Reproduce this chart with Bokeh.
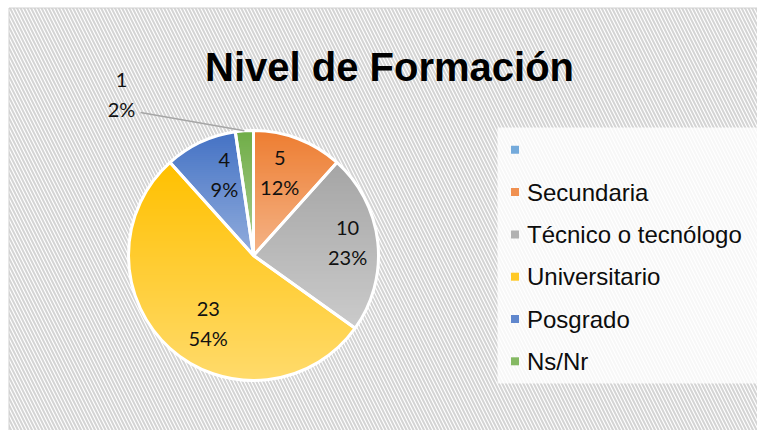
import math
from bokeh.plotting import figure
from bokeh.models import Range1d, ColumnDataSource
from bokeh.core.properties import value
from bokeh.embed import file_html
from bokeh.resources import INLINE

# ---------------- data ----------------
title_text = "Nivel de Formación"
categories = ["", "Secundaria", "Técnico o tecnólogo", "Universitario", "Posgrado", "Ns/Nr"]
counts = [0, 5, 10, 23, 4, 1]
percent_labels = ["", "12%", "23%", "54%", "9%", "2%"]

# ---------------- style / layout ----------------
base_colors = ["#5B9BD5", "#ED7D31", "#A5A5A5", "#FFC000", "#4472C4", "#70AD47"]
W, H = 757, 430
BX, BY = 8.5, 422.5                 # chart border (left / top)
CX, CY, R = 253, 175, 125          # pie centre / radius in pixel-like data units
label_r = [0.0, 0.70, 0.76, 0.65, 0.69, 0.0]
label_shift_deg = [0, -3.5, -1.7, -8.0, 5.4, 0]   # clockwise nudges of label positions
outside_label = {5: (121, 337)}     # label drawn outside with a leader line
LEG_X, LEG_Y0, LEG_STEP = 514.5, 280.7, 42.3


def lighten(hexc, t):
    rgb = [int(hexc[i:i + 2], 16) for i in (1, 3, 5)]
    return "#%02x%02x%02x" % tuple(int(round(c + (255 - c) * t)) for c in rgb)


def clip_band(poly, lo, hi):
    def clip_edge(pts, keep, y0):
        out = []
        n = len(pts)
        for i in range(n):
            cur, prev = pts[i], pts[i - 1]
            def inter(p, q):
                return (p[0] + (q[0] - p[0]) * (y0 - p[1]) / (q[1] - p[1]), y0)
            if keep(cur):
                if not keep(prev):
                    out.append(inter(prev, cur))
                out.append(cur)
            elif keep(prev):
                out.append(inter(prev, cur))
        return out
    pts = clip_edge(poly, lambda p: p[1] >= lo, lo)
    if not pts:
        return []
    return clip_edge(pts, lambda p: p[1] <= hi, hi)


total = sum(counts)
starts, ends, cum = [], [], 0.0
for c in counts:
    a0 = math.pi / 2 - 2 * math.pi * cum / total
    cum += c
    a1 = math.pi / 2 - 2 * math.pi * cum / total
    starts.append(a0)
    ends.append(a1)

p = figure(width=W, height=H, x_range=Range1d(0, W), y_range=Range1d(0, H),
           output_backend="svg", toolbar_location=None,
           x_axis_type=None, y_axis_type=None, min_border=0)
p.grid.visible = False
p.outline_line_color = None
p.background_fill_color = "white"
p.border_fill_color = "white"

# hatched chart background
p.quad(left=[BX], right=[W + 2], bottom=[-2], top=[BY], fill_color="white", line_color=None,
       hatch_pattern="left_diagonal_line", hatch_color="#D4D4D4", hatch_scale=7, hatch_weight=2)
# chart border (top / left visible)
p.segment(x0=[BX, BX], y0=[BY, 0], x1=[W, BX], y1=[BY, BY], line_color="#D0D0D0", line_width=1)

# pie slices
idx = [i for i, c in enumerate(counts) if c > 0]
src = ColumnDataSource(dict(
    start=[starts[i] for i in idx], end=[ends[i] for i in idx],
    color=[lighten(base_colors[i], 0.2) for i in idx],
    x=[CX] * len(idx), y=[CY] * len(idx)))
p.wedge(x="x", y="y", radius=R, start_angle="start", end_angle="end", direction="clock",
        fill_color="color", line_color=None, source=src)

# gradient (darker at top, lighter at bottom of each slice)
gx, gy, gc = [], [], []
for i in idx:
    a0, a1 = starts[i], ends[i]
    n = max(8, int(abs(a0 - a1) * 180 / math.pi))
    poly = [(CX, CY)] + [(CX + R * math.cos(a0 + (a1 - a0) * k / n),
                          CY + R * math.sin(a0 + (a1 - a0) * k / n)) for k in range(n + 1)]
    ys = [q[1] for q in poly]
    ymax, ymin = max(ys), min(ys)
    y = ymax
    while y > ymin:
        band = clip_band(poly, y - 2.6, y)
        if len(band) >= 3:
            t = (ymax - (y - 1)) / (ymax - ymin)
            gx.append([q[0] for q in band])
            gy.append([q[1] for q in band])
            gc.append(lighten(base_colors[i], 0.42 * min(1, max(0, t))))
        y -= 2
p.patches(xs=gx, ys=gy, fill_color=gc, line_color=None)

# white separators / rim
p.wedge(x="x", y="y", radius=R, start_angle="start", end_angle="end", direction="clock",
        fill_color=None, line_color="white", line_width=3, source=src)

# data labels
lab_x, lab_y, lab_n, lab_p = [], [], [], []
for i in idx:
    mid = (starts[i] + ends[i]) / 2
    if i in outside_label:
        lx, ly = outside_label[i]
        ex, ey = CX + R * math.cos(mid), CY + R * math.sin(mid)
        p.line([lx + 19, ex], [ly - 19, ey], line_color="#A6A6A6", line_width=1.5)
    else:
        ang = mid - math.radians(label_shift_deg[i])
        lx = CX + label_r[i] * R * math.cos(ang)
        ly = CY + label_r[i] * R * math.sin(ang)
    lab_x.append(lx)
    lab_y.append(ly)
    lab_n.append(str(counts[i]))
    lab_p.append(percent_labels[i])
lsrc = ColumnDataSource(dict(x=lab_x, y=lab_y, n=lab_n, pc=lab_p))
p.text(x="x", y="y", text="n", source=lsrc, text_font=value("Lato"), text_font_size="20px",
       text_color="#111111", text_align="center", text_baseline="middle", y_offset=-14)
p.text(x="x", y="y", text="pc", source=lsrc, text_font=value("Lato"), text_font_size="20px",
       text_color="#111111", text_align="center", text_baseline="middle", y_offset=15)

# title
p.text(x=[389], y=[364], text=[title_text], text_font=value("Liberation Sans"),
       text_font_style="bold", text_font_size="40px", text_color="#000000",
       text_align="center", text_baseline="alphabetic")

# legend
p.quad(left=[497], right=[W], bottom=[47], top=[303], fill_color="white", fill_alpha=0.8,
       line_color=None)
leg_y = [LEG_Y0 - k * LEG_STEP for k in range(len(categories))]
p.rect(x=[LEG_X] * len(categories), y=leg_y, width=8, height=8,
       fill_color=[lighten(c, 0.15) for c in base_colors], line_color=None)
p.text(x=[LEG_X + 12] * len(categories), y=leg_y, text=categories,
       text_font=value("Liberation Sans"), text_font_size="24px", text_color="#0d0d0d",
       text_align="left", text_baseline="middle")

html = file_html(p, INLINE)
html = html.replace("<head>", "<head><style>html,body{overflow:hidden;}</style>", 1)
open("out.html", "w").write(html)
